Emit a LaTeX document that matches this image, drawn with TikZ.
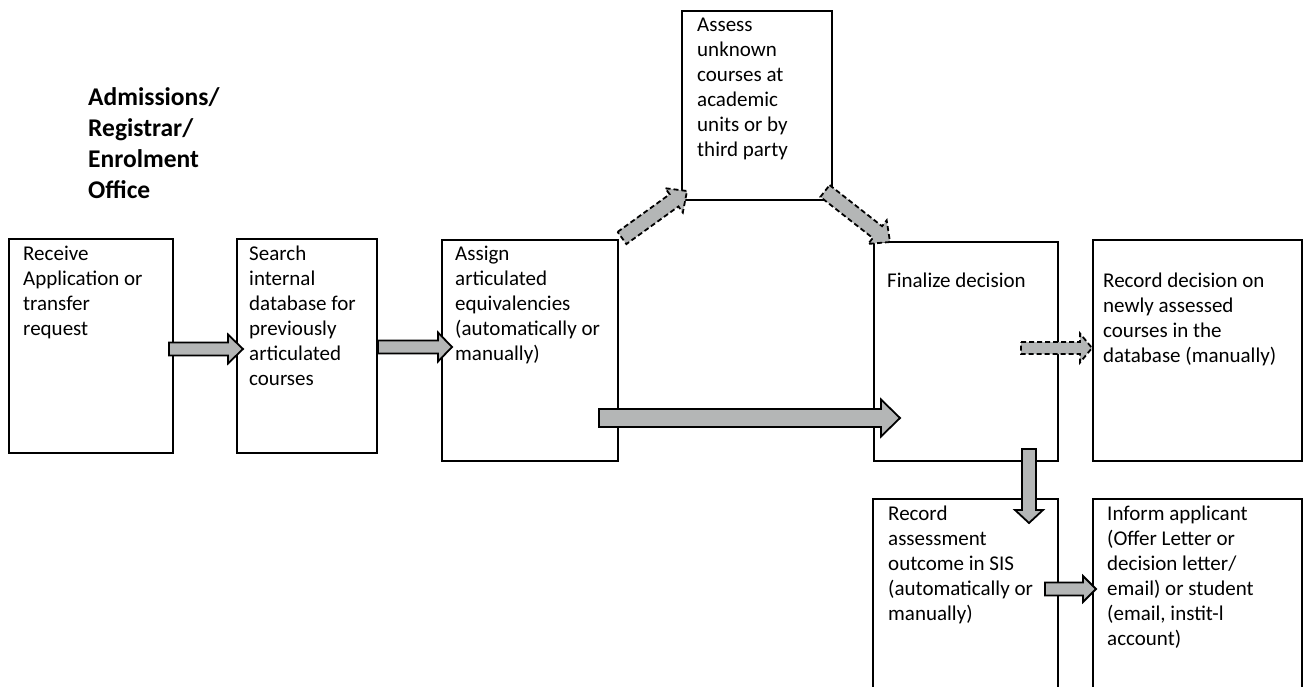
\documentclass[tikz,border=0pt]{standalone}
\usepackage{fontspec}
\setmainfont{Carlito}
\usetikzlibrary{calc}
\tikzset{
  box/.style={draw, line width=2pt, inner sep=0pt, outer sep=0pt, anchor=north west},
  txt/.style={anchor=north west, inner sep=0pt, align=left, font={\fontsize{21}{25}\selectfont}},
  headtxt/.style={anchor=north west, inner sep=0pt, align=left, font={\fontsize{25.5}{31}\selectfont\bfseries}},
  blk/.style={draw=black, fill=arrowgray, line width=1.8pt, line join=miter},
  dashblk/.style={dash pattern=on 5pt off 3pt},
}
\definecolor{arrowgray}{RGB}{180,182,182}
\newcommand{\blockarrow}[6][]{%
  \path ($(#3)!#6!(#2)$) coordinate (bah);
  \draw[blk,#1] ($(#2)!#4!90:(#3)$) -- ($(bah)!#4!-90:(#2)$) -- ($(bah)!#5!-90:(#2)$) -- (#3)
     -- ($(bah)!#5!90:(#2)$) -- ($(bah)!#4!90:(#2)$) -- ($(#2)!#4!-90:(#3)$) -- cycle;}
\begin{document}
\begin{tikzpicture}[x=1pt,y=-1pt]
\useasboundingbox[fill=white] (0,0) rectangle (1304,687);

% heading
\node[headtxt] (hd) at (88,87) {Admissions/\\Registrar/\\Enrolment\\Office};

% boxes
\node[box, minimum width=164pt, minimum height=214pt] (rec) at (9,239) {};
\node[box, minimum width=140pt, minimum height=214pt] (sea) at (237,239) {};
\node[box, minimum width=176pt, minimum height=221pt] (asg) at (442,240) {};
\node[box, minimum width=150pt, minimum height=189pt] (ass) at (682,11) {};
\node[box, minimum width=184pt, minimum height=219pt] (fin) at (874,242) {};
\node[box, minimum width=209pt, minimum height=221pt] (rdb) at (1093,240) {};
\node[box, minimum width=185pt, minimum height=200pt] (sis) at (873,499) {};
\node[box, minimum width=209pt, minimum height=200pt] (inf) at (1093,499) {};

% texts
\node[txt] (rect) at ($(rec.north west)+(14,7)$) {Receive\\Application or\\transfer\\request};
\node[txt] (seat) at ($(sea.north west)+(12,7)$) {Search\\internal\\database for\\previously\\articulated\\courses};
\node[txt] (asgt) at ($(asg.north west)+(13,6)$) {Assign\\articulated\\equivalencies\\(automatically or\\manually)};
\node[txt] (asst) at ($(ass.north west)+(15,7)$) {Assess\\unknown\\courses at\\academic\\units or by\\third party};
\node[txt] (fint) at ($(fin.north west)+(13,31)$) {Finalize decision};
\node[txt] (rdbt) at ($(rdb.north west)+(10,33)$) {Record decision on\\newly assessed\\courses in the\\database (manually)};
\node[txt] (sist) at ($(sis.north west)+(15,7)$) {Record\\assessment\\outcome in SIS\\(automatically or\\manually)};
\node[txt] (inft) at ($(inf.north west)+(14,7)$) {Inform applicant\\(Offer Letter or\\decision letter/\\email) or student\\(email, instit-l\\account)};

% arrow end points
\coordinate (a1s) at (169,349); \coordinate (a1e) at (243,349);
\coordinate (a2s) at (378,347); \coordinate (a2e) at (452,347);
\coordinate (a3s) at (599,418); \coordinate (a3e) at (900,418);
\coordinate (a4s) at (622,238); \coordinate (a4e) at (687,191);
\coordinate (a5s) at (825,191); \coordinate (a5e) at (890,242);
\coordinate (a6s) at (1021,348); \coordinate (a6e) at (1092,348);
\coordinate (a7s) at (1029,449); \coordinate (a7e) at (1029,523);
\coordinate (a8s) at (1045,589); \coordinate (a8e) at (1096,589);

\blockarrow{a1s}{a1e}{6.5pt}{14.5pt}{15pt}
\blockarrow{a2s}{a2e}{6.5pt}{14.5pt}{14pt}
\blockarrow{a3s}{a3e}{9pt}{18.5pt}{19pt}
\blockarrow[dashblk]{a4s}{a4e}{7.5pt}{15pt}{16pt}
\blockarrow[dashblk]{a5s}{a5e}{7.5pt}{15pt}{16pt}
\blockarrow[dashblk]{a6s}{a6e}{6pt}{14.5pt}{12pt}
\blockarrow{a7s}{a7e}{7pt}{14pt}{13pt}
\blockarrow{a8s}{a8e}{6.5pt}{13pt}{13pt}
\end{tikzpicture}
\end{document}
